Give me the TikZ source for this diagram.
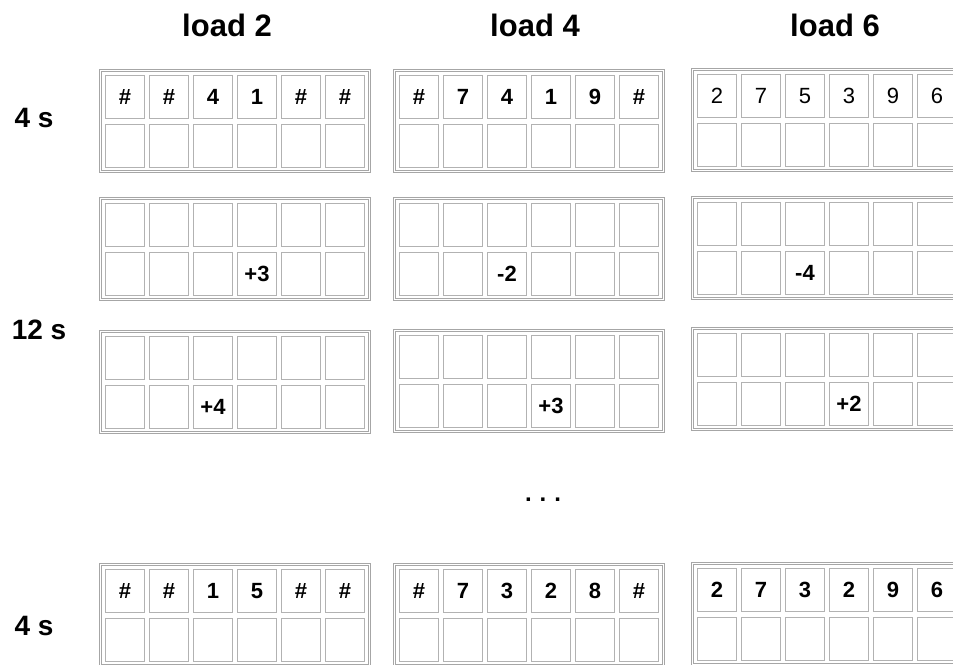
\documentclass[tikz,border=0pt]{standalone}
\usepackage{fontspec}
\setmainfont{Liberation Sans}
\newcommand\cellrow[5]{%
  \foreach \t [count=\k from 0] in {#5}{%
    \node[cell,#1] (#2\k) at ({#3+25+44*\k},{#4}) {\t};}}
\begin{document}
\begin{tikzpicture}[x=1pt,y=-1pt,
  panel/.style={draw=gray!70, double=white, double distance=1.4pt, line width=0.8pt,
    minimum width=269pt, minimum height=101pt, inner sep=0pt, anchor=north west},
  cell/.style={draw=gray!60, line width=1.4pt, minimum width=38.6pt,
    minimum height=42.6pt, inner sep=0pt, font=\fontsize{22}{24}\selectfont\bfseries},
  plain/.style={font=\fontsize{22}{24}\selectfont\mdseries},
  head/.style={font=\fontsize{31}{34}\selectfont\bfseries, inner sep=0pt},
  rowlab/.style={font=\fontsize{28}{30}\selectfont\bfseries, inner sep=0pt},
]
\useasboundingbox (0,0) rectangle (953,664);
\clip (0,0) rectangle (953,664);
% headers
\node[head] (h2) at (227,25) {load 2};
\node[head] (h4) at (535,25) {load 4};
\node[head] (h6) at (835,25) {load 6};
% row labels
\node[rowlab] (l4a) at (34,118) {4 s};
\node[rowlab] (l12) at (39,330) {12 s};
\node[rowlab] (l4b) at (34,626) {4 s};
% row 1
\node[panel] (p11) at (100,70) {};
\cellrow{}{p11a}{100}{97}{\#,\#,4,1,\#,\#}
\cellrow{}{p11b}{100}{146}{{},{},{},{},{},{}}
\node[panel] (p12) at (394,70) {};
\cellrow{}{p12a}{394}{97}{\#,7,4,1,9,\#}
\cellrow{}{p12b}{394}{146}{{},{},{},{},{},{}}
\node[panel] (p13) at (692,69) {};
\cellrow{plain}{p13a}{692}{96}{2,7,5,3,9,6}
\cellrow{}{p13b}{692}{145}{{},{},{},{},{},{}}
% row 2
\node[panel] (p21) at (100,198) {};
\cellrow{}{p21a}{100}{225}{{},{},{},{},{},{}}
\cellrow{}{p21b}{100}{274}{{},{},{},+3,{},{}}
\node[panel] (p22) at (394,198) {};
\cellrow{}{p22a}{394}{225}{{},{},{},{},{},{}}
\cellrow{}{p22b}{394}{274}{{},{},-2,{},{},{}}
\node[panel] (p23) at (692,197) {};
\cellrow{}{p23a}{692}{224}{{},{},{},{},{},{}}
\cellrow{}{p23b}{692}{273}{{},{},-4,{},{},{}}
% row 3
\node[panel] (p31) at (100,331) {};
\cellrow{}{p31a}{100}{358}{{},{},{},{},{},{}}
\cellrow{}{p31b}{100}{407}{{},{},+4,{},{},{}}
\node[panel] (p32) at (394,330) {};
\cellrow{}{p32a}{394}{357}{{},{},{},{},{},{}}
\cellrow{}{p32b}{394}{406}{{},{},{},+3,{},{}}
\node[panel] (p33) at (692,328) {};
\cellrow{}{p33a}{692}{355}{{},{},{},{},{},{}}
\cellrow{}{p33b}{692}{404}{{},{},{},+2,{},{}}
% ellipsis
\node[font=\fontsize{24}{26}\selectfont\bfseries, inner sep=0pt] (dots) at (543,500) {.\,\,.\,\,.};
% row 4
\node[panel] (p41) at (100,564) {};
\cellrow{}{p41a}{100}{591}{\#,\#,1,5,\#,\#}
\cellrow{}{p41b}{100}{640}{{},{},{},{},{},{}}
\node[panel] (p42) at (394,564) {};
\cellrow{}{p42a}{394}{591}{\#,7,3,2,8,\#}
\cellrow{}{p42b}{394}{640}{{},{},{},{},{},{}}
\node[panel] (p43) at (692,563) {};
\cellrow{}{p43a}{692}{590}{2,7,3,2,9,6}
\cellrow{}{p43b}{692}{639}{{},{},{},{},{},{}}
\end{tikzpicture}
\end{document}
